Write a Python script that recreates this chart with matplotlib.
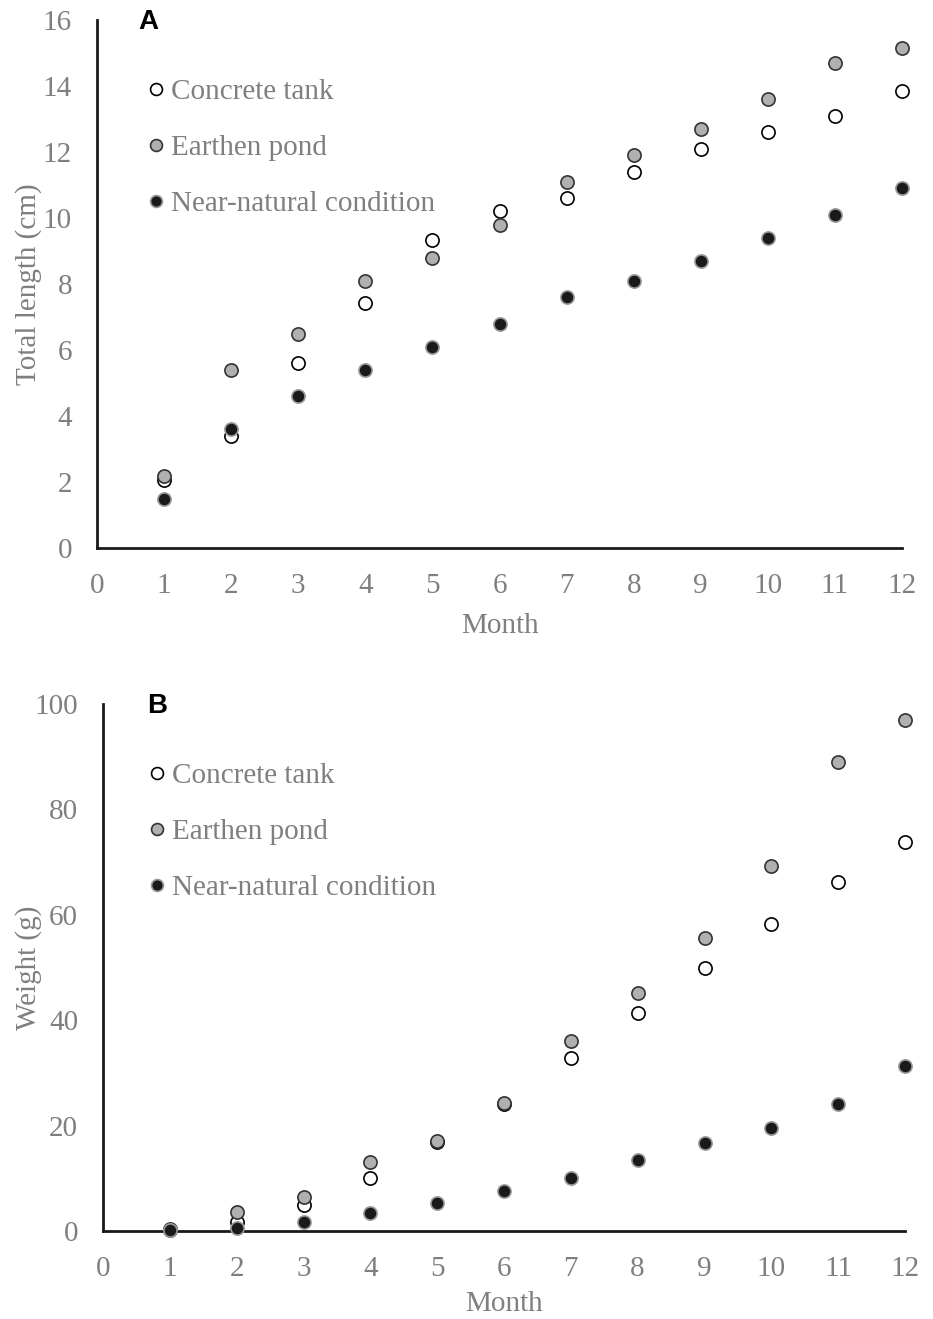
import matplotlib.pyplot as plt

months = [1, 2, 3, 4, 5, 6, 7, 8, 9, 10, 11, 12]

# Panel A - total length (cm)
length_concrete = [2.06, 3.4, 5.6, 7.42, 9.33, 10.2, 10.6, 11.4, 12.1, 12.6, 13.1, 13.85]
length_earthen = [2.18, 5.4, 6.5, 8.1, 8.8, 9.8, 11.1, 11.9, 12.7, 13.6, 14.7, 15.15]
length_natural = [1.48, 3.6, 4.6, 5.4, 6.1, 6.8, 7.6, 8.1, 8.7, 9.4, 10.1, 10.9]

# Panel B - weight (g)
weight_concrete = [0.2, 1.7, 4.9, 10.1, 16.9, 24.1, 32.8, 41.4, 49.9, 58.3, 66.2, 73.8]
weight_earthen = [0.3, 3.6, 6.5, 13.1, 17.1, 24.3, 36.1, 45.2, 55.6, 69.3, 89.0, 97.0]
weight_natural = [0.1, 0.6, 1.7, 3.4, 5.3, 7.6, 10.1, 13.5, 16.7, 19.5, 24.1, 31.3]

labels = ['Concrete tank', 'Earthen pond', 'Near-natural condition']
text_grey = '#7f7f7f'

plt.rcParams['font.family'] = ['Liberation Serif', 'DejaVu Serif']

fig = plt.figure(figsize=(9.33, 13.19), dpi=100)
ax_a = fig.add_axes([0.104, 0.5845, 0.8628, 0.4003])
ax_b = fig.add_axes([0.1104, 0.0667, 0.8596, 0.3996])


def draw_panel(ax, concrete, earthen, natural, ymax, ystep, ylabel, letter,
               letter_x, leg_x, ylab_x, xlab_y):
    ms = 9.5
    ax.plot(months, concrete, 'o', ms=ms, mfc='white', mec='black', mew=1.2,
            label=labels[0], clip_on=False, zorder=3)
    ax.plot(months, earthen, 'o', ms=ms, mfc='#b0b0b0', mec='#333333', mew=1.2,
            label=labels[1], clip_on=False, zorder=3)
    ax.plot(months, natural, 'o', ms=ms, mfc='#1a1a1a', mec='#9a9a9a', mew=1.2,
            label=labels[2], clip_on=False, zorder=4)

    ax.set_xlim(0, 12)
    ax.set_ylim(0, ymax)
    ax.set_xticks(range(0, 13))
    ax.set_yticks(range(0, ymax + 1, ystep))
    for side in ['top', 'right']:
        ax.spines[side].set_visible(False)
    for side in ['left', 'bottom']:
        ax.spines[side].set_linewidth(2)
        ax.spines[side].set_color('#1a1a1a')
    ax.tick_params(length=0, labelsize=21, labelcolor=text_grey, pad=18)
    ax.set_xlabel('Month', fontsize=21, color=text_grey)
    ax.set_ylabel(ylabel, fontsize=21, color=text_grey)
    ax.xaxis.set_label_coords(0.5, xlab_y)
    ax.yaxis.set_label_coords(ylab_x, 0.5)

    ax.text(letter_x, 0.997, letter, transform=ax.transAxes, fontsize=20,
            fontweight='bold', family='Liberation Sans', va='center', ha='left')

    ax.legend(loc='upper left', bbox_to_anchor=(leg_x, 0.911), frameon=False,
              fontsize=21, labelcolor=text_grey, handlelength=0.4,
              handletextpad=0.32, labelspacing=1.02, borderaxespad=0,
              markerscale=0.9)


draw_panel(ax_a, length_concrete, length_earthen, length_natural, 16, 2,
           'Total length (cm)', 'A', 0.051, 0.0516, -0.0684, -0.123)
draw_panel(ax_b, weight_concrete, weight_earthen, weight_natural, 100, 20,
           'Weight (g)', 'B', 0.055, 0.0455, -0.076, -0.113)

fig.savefig('out.png', dpi=100)
